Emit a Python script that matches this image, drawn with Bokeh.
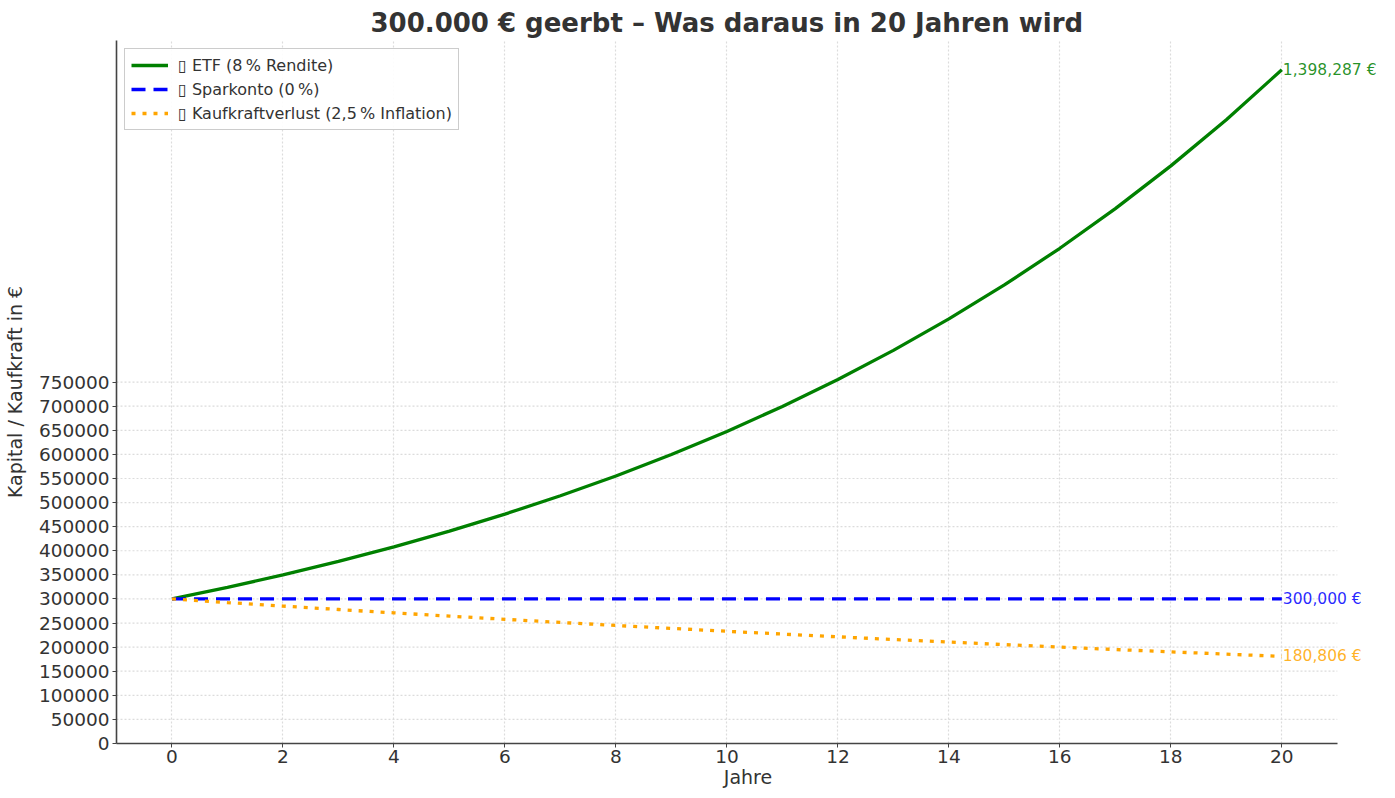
from bokeh.plotting import figure
from bokeh.models import (FixedTicker, NumeralTickFormatter, Range1d, Legend, LegendItem,
                          ColumnDataSource, Title, Label)
from bokeh.embed import file_html
from bokeh.resources import INLINE

# ---- data ----
years = list(range(0, 21))
etf = [300000, 324000, 349920, 377914, 408147, 440798, 476062, 514147, 555279, 599701,
       647677, 699491, 755450, 815886, 881157, 951649, 1027781, 1110003, 1198803, 1294707,
       1398287]
spar = [300000] * 21
kaufkraft = [300000, 292500, 285188, 278058, 271107, 264329, 257721, 251278, 244996, 238871,
             232899, 227077, 221400, 215865, 210468, 205207, 200076, 195074, 190197, 185442,
             180806]
labels = ["\u25af ETF (8\u202f% Rendite)", "\u25af Sparkonto (0\u202f%)",
          "\u25af Kaufkraftverlust (2,5\u202f% Inflation)"]
end_labels = ["1,398,287 \u20ac", "300,000 \u20ac", "180,806 \u20ac"]
y_ticks = list(range(0, 750001, 50000))
x_ticks = list(range(0, 21, 2))
title_text = "300.000 \u20ac geerbt \u2013 Was daraus in 20 Jahren wird"

FONT = "DejaVu Sans"
TXT = "#333333"
X_LO, X_HI = -1, 21

p = figure(width=1379, height=790, output_backend="svg", toolbar_location=None,
           x_range=Range1d(X_LO, 21.76), y_range=Range1d(0, 1459000),
           min_border_left=107, min_border_right=0, min_border_bottom=0, min_border_top=40)
p.title = Title(text=title_text, align="left", text_font=FONT, text_font_size="26px",
                text_font_style="bold", text_color=TXT, offset=254, standoff=6)
p.outline_line_color = None
p.background_fill_color = "white"

# horizontal grid lines only across the axis span
p.segment(x0=[X_LO] * len(y_ticks), x1=[X_HI] * len(y_ticks), y0=y_ticks, y1=y_ticks,
          line_color="#dcdcdc", line_dash="2 2", line_width=1.2, level="underlay")

src = ColumnDataSource(dict(x=years, etf=etf, spar=spar, kk=kaufkraft))
r1 = p.line("x", "etf", source=src, line_color="green", line_width=3.3)
r2 = p.line("x", "spar", source=src, line_color="blue", line_width=3.3, line_dash="14 8")
r3 = p.line("x", "kk", source=src, line_color="orange", line_width=3.3, line_dash="4 7")

legend = Legend(items=[LegendItem(label=labels[0], renderers=[r1]),
                       LegendItem(label=labels[1], renderers=[r2]),
                       LegendItem(label=labels[2], renderers=[r3])],
                location="top_left", label_text_font=FONT, label_text_font_size="16px",
                label_text_color=TXT, border_line_color="#cccccc", border_line_alpha=1,
                background_fill_alpha=0.9, glyph_width=37, glyph_height=20,
                spacing=4, padding=6, margin=8, label_standoff=10,
                label_height=20)
p.add_layout(legend)

# end annotations
cols = ["green", "blue", "orange"]
ends_y = [etf[-1], spar[-1], kaufkraft[-1]]
for yv, txt, c in zip(ends_y, end_labels, cols):
    p.add_layout(Label(x=years[-1], y=yv, text=txt, text_color=c, text_font=FONT,
                       text_font_size="15.5px", text_baseline="middle", text_align="left",
                       x_offset=1, text_alpha=0.85))

# axes
p.xaxis.ticker = FixedTicker(ticks=x_ticks)
p.yaxis.ticker = FixedTicker(ticks=y_ticks)
p.yaxis.formatter = NumeralTickFormatter(format="0")
p.xaxis.bounds = (X_LO, X_HI)
for ax in (p.xaxis[0], p.yaxis[0]):
    ax.axis_line_color = "#444444"
    ax.axis_line_width = 1.6
    ax.major_tick_line_color = "#444444"
    ax.major_tick_out = 4
    ax.major_tick_in = 0
    ax.minor_tick_line_color = None
    ax.major_label_text_font = FONT
    ax.major_label_text_font_size = "18.5px"
    ax.major_label_text_color = TXT
    ax.axis_label_text_font = FONT
    ax.axis_label_text_font_size = "19px"
    ax.axis_label_text_font_style = "normal"
    ax.axis_label_text_color = TXT
p.xaxis.axis_label = "Jahre"
p.yaxis.axis_label = "Kapital / Kaufkraft in \u20ac"
p.xaxis.axis_label_standoff = 0
p.yaxis.axis_label_standoff = 10
p.xaxis.major_label_standoff = 2
p.yaxis.major_label_standoff = 3

p.xgrid.grid_line_color = "#dcdcdc"
p.xgrid.grid_line_dash = "2 2"
p.xgrid.grid_line_width = 1.2
p.ygrid.grid_line_color = None

open("out.html", "w").write(file_html(p, INLINE))
